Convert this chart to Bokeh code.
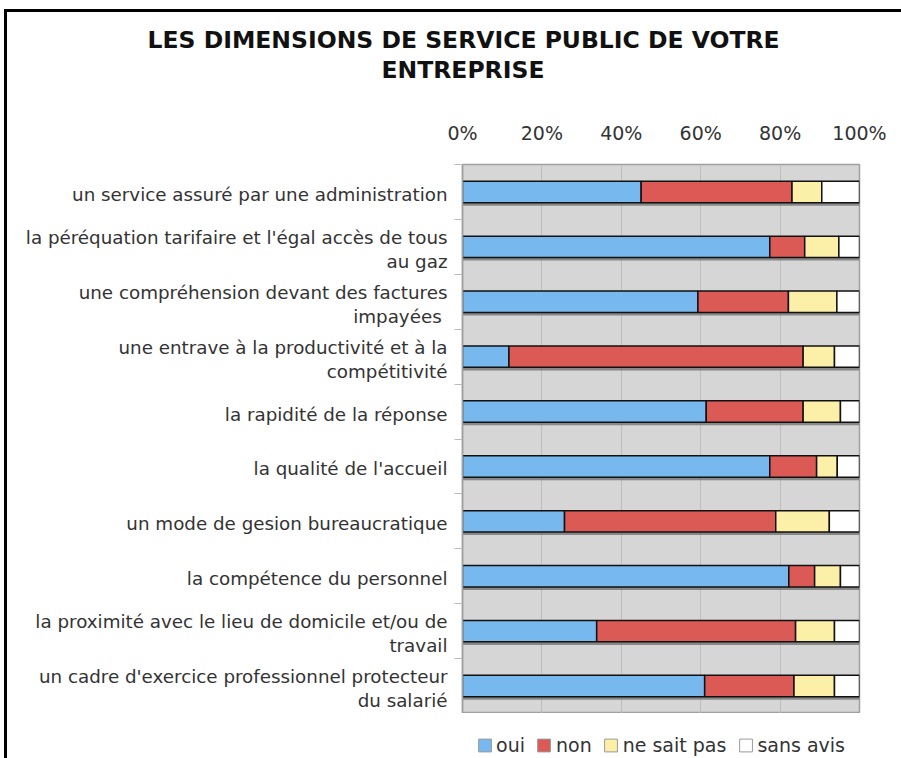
from bokeh.plotting import figure
from bokeh.layouts import column
from bokeh.models import (Range1d, FixedTicker, Legend, LegendItem, Title, ColumnDataSource)
from bokeh.embed import file_html
from bokeh.resources import INLINE

title_lines = ["LES DIMENSIONS DE SERVICE PUBLIC DE VOTRE", "ENTREPRISE"]
categories = [
    "un service assuré par une administration",
    "la péréquation tarifaire et l'égal accès de tous\nau gaz",
    "une compréhension devant des factures\nimpayées ",
    "une entrave à la productivité et à la\ncompétitivité",
    "la rapidité de la réponse",
    "la qualité de l'accueil",
    "un mode de gesion bureaucratique",
    "la compétence du personnel",
    "la proximité avec le lieu de domicile et/ou de\ntravail",
    "un cadre d'exercice professionnel protecteur\ndu salarié",
]
oui = [45.0, 77.4, 59.3, 11.7, 61.4, 77.4, 25.7, 82.2, 33.8, 61.0]
non = [38.0, 8.8, 22.8, 74.1, 24.4, 11.8, 53.2, 6.5, 50.1, 22.5]
nsp = [7.5, 8.6, 12.2, 7.9, 9.4, 5.2, 13.5, 6.5, 9.8, 10.2]
sans_avis = [9.5, 5.2, 5.7, 6.3, 4.8, 5.6, 7.6, 4.8, 6.3, 6.3]
series = ["oui", "non", "ne sait pas", "sans avis"]
colors = ["#77B9EE", "#DC5A56", "#FCEFA8", "#FFFFFF"]
x_ticks = [0, 20, 40, 60, 80, 100]
x_tick_labels = ["0%", "20%", "40%", "60%", "80%", "100%"]

n = len(categories)
ypos = [i + 0.5 for i in range(n)]
label_pos = [round(v + 0.045, 3) for v in ypos]
bounds = list(range(n + 1))
src = ColumnDataSource(dict(y=ypos, oui=oui, non=non, nsp=nsp, sans=sans_avis,
                            total=[a + b + c + d for a, b, c, d in zip(oui, non, nsp, sans_avis)],
                            ys=[v + 0.055 for v in ypos]))
fields = ["oui", "non", "nsp", "sans"]

FONT = "DejaVu Sans"
TXT = "#333333"

p = figure(frame_width=397, frame_height=549, x_range=Range1d(0, 100), y_range=Range1d(n, 0),
           output_backend="svg", toolbar_location=None, x_axis_location="above",
           min_border_left=462, min_border_right=42, min_border_top=164, min_border_bottom=0)
p.styles = {
    "background": "linear-gradient(#000,#000) 4px 9px / 3px 100% no-repeat, "
                  "linear-gradient(#000,#000) 4px 9px / 100% 3px no-repeat, #fff",
}
p.background_fill_color = "#D6D6D6"
p.border_fill_color = None
p.outline_line_color = "#A0A0A0"
p.outline_line_width = 1.5

# x axis (top)
xa = p.xaxis[0]
xa.ticker = FixedTicker(ticks=x_ticks)
xa.major_label_overrides = {t: l for t, l in zip(x_ticks, x_tick_labels)}
xa.axis_line_color = None
xa.major_tick_line_color = None
xa.major_tick_out = 0
xa.major_tick_in = 0
xa.minor_tick_line_color = None
xa.major_label_standoff = 21
xa.major_label_text_font = FONT
xa.major_label_text_font_size = "19px"
xa.major_label_text_color = TXT

# y axis: category labels at centres, tick marks at boundaries
ya = p.yaxis[0]
ya.ticker = FixedTicker(ticks=label_pos, minor_ticks=bounds)
ya.major_label_overrides = {y: c for y, c in zip(label_pos, categories)}
ya.major_label_text_font = FONT
ya.major_label_text_font_size = "18.3px"
ya.major_label_text_color = TXT
ya.major_label_text_line_height = 1.15
ya.major_label_standoff = 7
ya.major_tick_line_color = None
ya.major_tick_out = 0
ya.major_tick_in = 0
ya.minor_tick_out = 8
ya.minor_tick_in = 0
ya.minor_tick_line_color = "#BBBBBB"
ya.axis_line_color = "#A0A0A0"
ya.axis_line_width = 1.5

p.xgrid.grid_line_color = "#BDBDBD"
p.ygrid.grid_line_color = None

# shadows
p.hbar(y="ys", left=0, right="total", height=0.39, source=src,
       fill_color="#6E6E6E", fill_alpha=0.75, line_color=None)

rs = p.hbar_stack(fields, y="y", height=0.39, source=src,
                  fill_color=colors, line_color="#111111", line_width=1.5)

t2 = Title(text=title_lines[1], align="left", offset=-81, standoff=0,
           text_font=FONT, text_font_style="bold", text_font_size="23.5px",
           text_color="#111111")
try:
    t2.padding = dict(left=0, right=0, top=0, bottom=35)
except Exception:
    t2.standoff = 34
t1 = Title(text=title_lines[0], align="left", offset=-315, standoff=0,
           text_font=FONT, text_font_style="bold", text_font_size="23.5px",
           text_color="#111111")
p.add_layout(t2, "above")
p.add_layout(t1, "above")

# legend strip under the chart (frame aligned with the plot area above).
# The legend proxies are the same stacked series, drawn outside this strip's range.
p2 = figure(frame_width=397, frame_height=26, x_range=Range1d(0, 100),
            y_range=Range1d(n + 10, n + 11),
            output_backend="svg", toolbar_location=None,
            x_axis_location=None, y_axis_location=None,
            min_border_left=462, min_border_right=42, min_border_top=19, min_border_bottom=0)
p2.styles = {"background": "linear-gradient(#000,#000) 4px 0 / 3px 100% no-repeat, #fff"}
p2.background_fill_color = None
p2.border_fill_color = None
p2.outline_line_color = None
p2.xgrid.visible = False
p2.ygrid.visible = False
leg_rs = p2.hbar_stack(fields, y="y", height=0.39, source=src,
                       fill_color=colors, line_color="#9A9A9A", line_width=1)
legend = Legend(items=[LegendItem(label=s, renderers=[r]) for s, r in zip(series, leg_rs)],
                orientation="horizontal", location="center",
                label_text_font=FONT, label_text_font_size="19px", label_text_color=TXT,
                glyph_width=16, glyph_height=16, label_standoff=4, spacing=11,
                padding=0, margin=0, border_line_color=None, background_fill_alpha=0)
p2.add_layout(legend)

layout = column(p, p2, spacing=0)
open("out.html", "w").write(file_html(layout, INLINE))
